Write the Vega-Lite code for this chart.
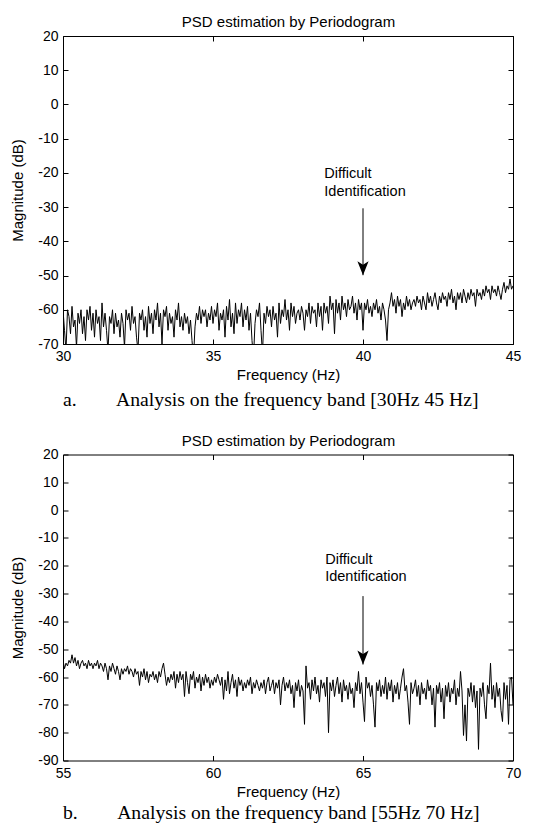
{
"$schema":"https://vega.github.io/schema/vega-lite/v6.json",
"background":"white",
"padding":{"left":10,"top":14,"right":5,"bottom":0},
"spacing":22.5,
"config":{"font":"Liberation Sans","view":{"stroke":null},
"axis":{"grid":false,"domainColor":"black","tickColor":"black","labelColor":"black","titleColor":"black","tickSize":-5,"tickWidth":1,"domainWidth":1,"labelFont":"Liberation Sans","labelFontSize":14,"titleFont":"Liberation Sans","titleFontSize":15,"titleFontWeight":"normal","labelFlush":false,"labelOverlap":false,"labelExpr":"toString(datum.value)"},
"axisX":{"labelPadding":10.5,"titlePadding":4},
"axisY":{"labelPadding":10,"titlePadding":12},
"axisTop":{"titlePadding":9,"titleBaseline":"alphabetic"}},
"datasets":{
"a":[{"f":30.00,"m":-60},{"f":30.05,"m":-66},{"f":30.10,"m":-72},{"f":30.15,"m":-60},{"f":30.20,"m":-62},{"f":30.25,"m":-67},{"f":30.30,"m":-59},{"f":30.35,"m":-65},{"f":30.40,"m":-63},{"f":30.45,"m":-71},{"f":30.50,"m":-61},{"f":30.55,"m":-64},{"f":30.60,"m":-60},{"f":30.65,"m":-67},{"f":30.70,"m":-62},{"f":30.75,"m":-69},{"f":30.80,"m":-60},{"f":30.85,"m":-63},{"f":30.90,"m":-59},{"f":30.95,"m":-66},
{"f":31.00,"m":-61},{"f":31.05,"m":-68},{"f":31.10,"m":-60},{"f":31.15,"m":-64},{"f":31.20,"m":-62},{"f":31.25,"m":-69},{"f":31.30,"m":-58},{"f":31.35,"m":-65},{"f":31.40,"m":-61},{"f":31.45,"m":-66},{"f":31.50,"m":-72},{"f":31.55,"m":-62},{"f":31.60,"m":-64},{"f":31.65,"m":-60},{"f":31.70,"m":-67},{"f":31.75,"m":-61},{"f":31.80,"m":-65},{"f":31.85,"m":-63},{"f":31.90,"m":-68},{"f":31.95,"m":-61},
{"f":32.00,"m":-64},{"f":32.05,"m":-71},{"f":32.10,"m":-60},{"f":32.15,"m":-63},{"f":32.20,"m":-61},{"f":32.25,"m":-66},{"f":32.30,"m":-59},{"f":32.35,"m":-64},{"f":32.40,"m":-62},{"f":32.45,"m":-68},{"f":32.50,"m":-72},{"f":32.55,"m":-61},{"f":32.60,"m":-63},{"f":32.65,"m":-60},{"f":32.70,"m":-66},{"f":32.75,"m":-62},{"f":32.80,"m":-68},{"f":32.85,"m":-59},{"f":32.90,"m":-64},{"f":32.95,"m":-61},
{"f":33.00,"m":-67},{"f":33.05,"m":-60},{"f":33.10,"m":-63},{"f":33.15,"m":-58},{"f":33.20,"m":-65},{"f":33.25,"m":-61},{"f":33.30,"m":-70},{"f":33.35,"m":-60},{"f":33.40,"m":-62},{"f":33.45,"m":-59},{"f":33.50,"m":-66},{"f":33.55,"m":-61},{"f":33.60,"m":-64},{"f":33.65,"m":-62},{"f":33.70,"m":-68},{"f":33.75,"m":-60},{"f":33.80,"m":-63},{"f":33.85,"m":-58},{"f":33.90,"m":-65},{"f":33.95,"m":-62},
{"f":34.00,"m":-66},{"f":34.05,"m":-61},{"f":34.10,"m":-64},{"f":34.15,"m":-62},{"f":34.20,"m":-67},{"f":34.25,"m":-63},{"f":34.30,"m":-69},{"f":34.35,"m":-74},{"f":34.40,"m":-65},{"f":34.45,"m":-61},{"f":34.50,"m":-63},{"f":34.55,"m":-59},{"f":34.60,"m":-64},{"f":34.65,"m":-60},{"f":34.70,"m":-62},{"f":34.75,"m":-60},{"f":34.80,"m":-65},{"f":34.85,"m":-61},{"f":34.90,"m":-63},{"f":34.95,"m":-59},
{"f":35.00,"m":-64},{"f":35.05,"m":-60},{"f":35.10,"m":-62},{"f":35.15,"m":-58},{"f":35.20,"m":-66},{"f":35.25,"m":-61},{"f":35.30,"m":-63},{"f":35.35,"m":-60},{"f":35.40,"m":-68},{"f":35.45,"m":-59},{"f":35.50,"m":-63},{"f":35.55,"m":-57},{"f":35.60,"m":-65},{"f":35.65,"m":-61},{"f":35.70,"m":-67},{"f":35.75,"m":-58},{"f":35.80,"m":-64},{"f":35.85,"m":-60},{"f":35.90,"m":-62},{"f":35.95,"m":-58},
{"f":36.00,"m":-65},{"f":36.05,"m":-60},{"f":36.10,"m":-63},{"f":36.15,"m":-59},{"f":36.20,"m":-66},{"f":36.25,"m":-61},{"f":36.30,"m":-69},{"f":36.35,"m":-74},{"f":36.40,"m":-64},{"f":36.45,"m":-60},{"f":36.50,"m":-62},{"f":36.55,"m":-58},{"f":36.60,"m":-66},{"f":36.65,"m":-73},{"f":36.70,"m":-61},{"f":36.75,"m":-64},{"f":36.80,"m":-59},{"f":36.85,"m":-62},{"f":36.90,"m":-60},{"f":36.95,"m":-65},
{"f":37.00,"m":-59},{"f":37.05,"m":-63},{"f":37.10,"m":-61},{"f":37.15,"m":-68},{"f":37.20,"m":-58},{"f":37.25,"m":-64},{"f":37.30,"m":-60},{"f":37.35,"m":-62},{"f":37.40,"m":-57},{"f":37.45,"m":-63},{"f":37.50,"m":-60},{"f":37.55,"m":-66},{"f":37.60,"m":-58},{"f":37.65,"m":-62},{"f":37.70,"m":-59},{"f":37.75,"m":-64},{"f":37.80,"m":-61},{"f":37.85,"m":-60},{"f":37.90,"m":-63},{"f":37.95,"m":-59},
{"f":38.00,"m":-61},{"f":38.05,"m":-66},{"f":38.10,"m":-60},{"f":38.15,"m":-62},{"f":38.20,"m":-58},{"f":38.25,"m":-64},{"f":38.30,"m":-59},{"f":38.35,"m":-61},{"f":38.40,"m":-60},{"f":38.45,"m":-65},{"f":38.50,"m":-58},{"f":38.55,"m":-62},{"f":38.60,"m":-59},{"f":38.65,"m":-66},{"f":38.70,"m":-58},{"f":38.75,"m":-61},{"f":38.80,"m":-59},{"f":38.85,"m":-64},{"f":38.90,"m":-56},{"f":38.95,"m":-60},
{"f":39.00,"m":-58},{"f":39.05,"m":-67},{"f":39.10,"m":-57},{"f":39.15,"m":-61},{"f":39.20,"m":-58},{"f":39.25,"m":-63},{"f":39.30,"m":-56},{"f":39.35,"m":-60},{"f":39.40,"m":-58},{"f":39.45,"m":-62},{"f":39.50,"m":-57},{"f":39.55,"m":-60},{"f":39.60,"m":-59},{"f":39.65,"m":-56},{"f":39.70,"m":-61},{"f":39.75,"m":-58},{"f":39.80,"m":-63},{"f":39.85,"m":-57},{"f":39.90,"m":-60},{"f":39.95,"m":-58},
{"f":40.00,"m":-66},{"f":40.05,"m":-58},{"f":40.10,"m":-60},{"f":40.15,"m":-57},{"f":40.20,"m":-61},{"f":40.25,"m":-59},{"f":40.30,"m":-62},{"f":40.35,"m":-58},{"f":40.40,"m":-60},{"f":40.45,"m":-57},{"f":40.50,"m":-61},{"f":40.55,"m":-59},{"f":40.60,"m":-63},{"f":40.65,"m":-58},{"f":40.70,"m":-60},{"f":40.75,"m":-63},{"f":40.80,"m":-69},{"f":40.85,"m":-60},{"f":40.90,"m":-58},{"f":40.95,"m":-55},
{"f":41.00,"m":-59},{"f":41.05,"m":-57},{"f":41.10,"m":-61},{"f":41.15,"m":-56},{"f":41.20,"m":-59},{"f":41.25,"m":-57},{"f":41.30,"m":-62},{"f":41.35,"m":-58},{"f":41.40,"m":-60},{"f":41.45,"m":-56},{"f":41.50,"m":-59},{"f":41.55,"m":-57},{"f":41.60,"m":-60},{"f":41.65,"m":-58},{"f":41.70,"m":-57},{"f":41.75,"m":-59},{"f":41.80,"m":-56},{"f":41.85,"m":-58},{"f":41.90,"m":-57},{"f":41.95,"m":-60},
{"f":42.00,"m":-56},{"f":42.05,"m":-58},{"f":42.10,"m":-60},{"f":42.15,"m":-55},{"f":42.20,"m":-58},{"f":42.25,"m":-56},{"f":42.30,"m":-59},{"f":42.35,"m":-57},{"f":42.40,"m":-55},{"f":42.45,"m":-58},{"f":42.50,"m":-60},{"f":42.55,"m":-56},{"f":42.60,"m":-58},{"f":42.65,"m":-55},{"f":42.70,"m":-57},{"f":42.75,"m":-56},{"f":42.80,"m":-59},{"f":42.85,"m":-55},{"f":42.90,"m":-57},{"f":42.95,"m":-54},
{"f":43.00,"m":-58},{"f":43.05,"m":-56},{"f":43.10,"m":-60},{"f":43.15,"m":-55},{"f":43.20,"m":-57},{"f":43.25,"m":-55},{"f":43.30,"m":-58},{"f":43.35,"m":-54},{"f":43.40,"m":-56},{"f":43.45,"m":-58},{"f":43.50,"m":-55},{"f":43.55,"m":-57},{"f":43.60,"m":-54},{"f":43.65,"m":-56},{"f":43.70,"m":-55},{"f":43.75,"m":-59},{"f":43.80,"m":-54},{"f":43.85,"m":-56},{"f":43.90,"m":-55},{"f":43.95,"m":-57},
{"f":44.00,"m":-54},{"f":44.05,"m":-56},{"f":44.10,"m":-53},{"f":44.15,"m":-55},{"f":44.20,"m":-54},{"f":44.25,"m":-57},{"f":44.30,"m":-53},{"f":44.35,"m":-55},{"f":44.40,"m":-54},{"f":44.45,"m":-56},{"f":44.50,"m":-53},{"f":44.55,"m":-55},{"f":44.60,"m":-57},{"f":44.65,"m":-54},{"f":44.70,"m":-52},{"f":44.75,"m":-55},{"f":44.80,"m":-53},{"f":44.85,"m":-54},{"f":44.90,"m":-51},{"f":44.95,"m":-54},{"f":45.00,"m":-53}],
"b":[{"f":55.00,"m":-54},{"f":55.05,"m":-57},{"f":55.10,"m":-55},{"f":55.15,"m":-56},{"f":55.20,"m":-54},{"f":55.25,"m":-55},{"f":55.30,"m":-52},{"f":55.35,"m":-55},{"f":55.40,"m":-53},{"f":55.45,"m":-56},{"f":55.50,"m":-54},{"f":55.55,"m":-57},{"f":55.60,"m":-55},{"f":55.65,"m":-54},{"f":55.70,"m":-56},{"f":55.75,"m":-55},{"f":55.80,"m":-57},{"f":55.85,"m":-54},{"f":55.90,"m":-56},{"f":55.95,"m":-55},
{"f":56.00,"m":-57},{"f":56.05,"m":-55},{"f":56.10,"m":-56},{"f":56.15,"m":-54},{"f":56.20,"m":-57},{"f":56.25,"m":-55},{"f":56.30,"m":-56},{"f":56.35,"m":-58},{"f":56.40,"m":-55},{"f":56.45,"m":-57},{"f":56.50,"m":-61},{"f":56.55,"m":-56},{"f":56.60,"m":-58},{"f":56.65,"m":-55},{"f":56.70,"m":-57},{"f":56.75,"m":-59},{"f":56.80,"m":-56},{"f":56.85,"m":-58},{"f":56.90,"m":-61},{"f":56.95,"m":-57},
{"f":57.00,"m":-59},{"f":57.05,"m":-57},{"f":57.10,"m":-58},{"f":57.15,"m":-56},{"f":57.20,"m":-59},{"f":57.25,"m":-57},{"f":57.30,"m":-58},{"f":57.35,"m":-60},{"f":57.40,"m":-57},{"f":57.45,"m":-59},{"f":57.50,"m":-58},{"f":57.55,"m":-63},{"f":57.60,"m":-58},{"f":57.65,"m":-60},{"f":57.70,"m":-57},{"f":57.75,"m":-61},{"f":57.80,"m":-58},{"f":57.85,"m":-62},{"f":57.90,"m":-59},{"f":57.95,"m":-60},
{"f":58.00,"m":-58},{"f":58.05,"m":-61},{"f":58.10,"m":-59},{"f":58.15,"m":-62},{"f":58.20,"m":-58},{"f":58.25,"m":-60},{"f":58.30,"m":-57},{"f":58.35,"m":-55},{"f":58.40,"m":-59},{"f":58.45,"m":-63},{"f":58.50,"m":-60},{"f":58.55,"m":-62},{"f":58.60,"m":-59},{"f":58.65,"m":-61},{"f":58.70,"m":-58},{"f":58.75,"m":-64},{"f":58.80,"m":-59},{"f":58.85,"m":-62},{"f":58.90,"m":-58},{"f":58.95,"m":-61},
{"f":59.00,"m":-59},{"f":59.05,"m":-67},{"f":59.10,"m":-58},{"f":59.15,"m":-62},{"f":59.20,"m":-66},{"f":59.25,"m":-59},{"f":59.30,"m":-61},{"f":59.35,"m":-58},{"f":59.40,"m":-64},{"f":59.45,"m":-60},{"f":59.50,"m":-62},{"f":59.55,"m":-59},{"f":59.60,"m":-65},{"f":59.65,"m":-60},{"f":59.70,"m":-63},{"f":59.75,"m":-59},{"f":59.80,"m":-62},{"f":59.85,"m":-60},{"f":59.90,"m":-64},{"f":59.95,"m":-61},
{"f":60.00,"m":-63},{"f":60.05,"m":-60},{"f":60.10,"m":-62},{"f":60.15,"m":-59},{"f":60.20,"m":-61},{"f":60.25,"m":-63},{"f":60.30,"m":-60},{"f":60.35,"m":-68},{"f":60.40,"m":-61},{"f":60.45,"m":-65},{"f":60.50,"m":-58},{"f":60.55,"m":-66},{"f":60.60,"m":-62},{"f":60.65,"m":-59},{"f":60.70,"m":-64},{"f":60.75,"m":-61},{"f":60.80,"m":-67},{"f":60.85,"m":-60},{"f":60.90,"m":-63},{"f":60.95,"m":-61},
{"f":61.00,"m":-65},{"f":61.05,"m":-62},{"f":61.10,"m":-64},{"f":61.15,"m":-61},{"f":61.20,"m":-63},{"f":61.25,"m":-60},{"f":61.30,"m":-66},{"f":61.35,"m":-62},{"f":61.40,"m":-64},{"f":61.45,"m":-61},{"f":61.50,"m":-63},{"f":61.55,"m":-65},{"f":61.60,"m":-62},{"f":61.65,"m":-64},{"f":61.70,"m":-61},{"f":61.75,"m":-66},{"f":61.80,"m":-62},{"f":61.85,"m":-60},{"f":61.90,"m":-65},{"f":61.95,"m":-63},
{"f":62.00,"m":-61},{"f":62.05,"m":-66},{"f":62.10,"m":-62},{"f":62.15,"m":-64},{"f":62.20,"m":-61},{"f":62.25,"m":-70},{"f":62.30,"m":-63},{"f":62.35,"m":-60},{"f":62.40,"m":-65},{"f":62.45,"m":-62},{"f":62.50,"m":-64},{"f":62.55,"m":-61},{"f":62.60,"m":-66},{"f":62.65,"m":-63},{"f":62.70,"m":-71},{"f":62.75,"m":-62},{"f":62.80,"m":-65},{"f":62.85,"m":-61},{"f":62.90,"m":-67},{"f":62.95,"m":-63},
{"f":63.00,"m":-65},{"f":63.05,"m":-77},{"f":63.10,"m":-56},{"f":63.15,"m":-64},{"f":63.20,"m":-62},{"f":63.25,"m":-68},{"f":63.30,"m":-61},{"f":63.35,"m":-65},{"f":63.40,"m":-60},{"f":63.45,"m":-66},{"f":63.50,"m":-63},{"f":63.55,"m":-69},{"f":63.60,"m":-61},{"f":63.65,"m":-64},{"f":63.70,"m":-62},{"f":63.75,"m":-67},{"f":63.80,"m":-60},{"f":63.85,"m":-80},{"f":63.90,"m":-62},{"f":63.95,"m":-65},
{"f":64.00,"m":-61},{"f":64.05,"m":-67},{"f":64.10,"m":-63},{"f":64.15,"m":-60},{"f":64.20,"m":-66},{"f":64.25,"m":-62},{"f":64.30,"m":-69},{"f":64.35,"m":-61},{"f":64.40,"m":-65},{"f":64.45,"m":-63},{"f":64.50,"m":-68},{"f":64.55,"m":-62},{"f":64.60,"m":-66},{"f":64.65,"m":-64},{"f":64.70,"m":-71},{"f":64.75,"m":-62},{"f":64.80,"m":-65},{"f":64.85,"m":-58},{"f":64.90,"m":-66},{"f":64.95,"m":-62},
{"f":65.00,"m":-69},{"f":65.05,"m":-76},{"f":65.10,"m":-60},{"f":65.15,"m":-64},{"f":65.20,"m":-62},{"f":65.25,"m":-67},{"f":65.30,"m":-63},{"f":65.35,"m":-70},{"f":65.40,"m":-78},{"f":65.45,"m":-62},{"f":65.50,"m":-65},{"f":65.55,"m":-61},{"f":65.60,"m":-67},{"f":65.65,"m":-63},{"f":65.70,"m":-66},{"f":65.75,"m":-60},{"f":65.80,"m":-68},{"f":65.85,"m":-62},{"f":65.90,"m":-65},{"f":65.95,"m":-61},
{"f":66.00,"m":-69},{"f":66.05,"m":-63},{"f":66.10,"m":-66},{"f":66.15,"m":-62},{"f":66.20,"m":-68},{"f":66.25,"m":-64},{"f":66.30,"m":-60},{"f":66.35,"m":-57},{"f":66.40,"m":-65},{"f":66.45,"m":-63},{"f":66.50,"m":-69},{"f":66.55,"m":-77},{"f":66.60,"m":-62},{"f":66.65,"m":-66},{"f":66.70,"m":-64},{"f":66.75,"m":-61},{"f":66.80,"m":-67},{"f":66.85,"m":-63},{"f":66.90,"m":-70},{"f":66.95,"m":-62},
{"f":67.00,"m":-66},{"f":67.05,"m":-64},{"f":67.10,"m":-68},{"f":67.15,"m":-61},{"f":67.20,"m":-65},{"f":67.25,"m":-63},{"f":67.30,"m":-70},{"f":67.35,"m":-64},{"f":67.40,"m":-78},{"f":67.45,"m":-63},{"f":67.50,"m":-66},{"f":67.55,"m":-62},{"f":67.60,"m":-69},{"f":67.65,"m":-64},{"f":67.70,"m":-75},{"f":67.75,"m":-63},{"f":67.80,"m":-67},{"f":67.85,"m":-62},{"f":67.90,"m":-69},{"f":67.95,"m":-64},
{"f":68.00,"m":-66},{"f":68.05,"m":-61},{"f":68.10,"m":-70},{"f":68.15,"m":-64},{"f":68.20,"m":-67},{"f":68.25,"m":-58},{"f":68.30,"m":-65},{"f":68.35,"m":-81},{"f":68.40,"m":-70},{"f":68.45,"m":-83},{"f":68.50,"m":-64},{"f":68.55,"m":-67},{"f":68.60,"m":-62},{"f":68.65,"m":-69},{"f":68.70,"m":-63},{"f":68.75,"m":-71},{"f":68.80,"m":-65},{"f":68.85,"m":-86},{"f":68.90,"m":-64},{"f":68.95,"m":-67},
{"f":69.00,"m":-62},{"f":69.05,"m":-70},{"f":69.10,"m":-75},{"f":69.15,"m":-63},{"f":69.20,"m":-66},{"f":69.25,"m":-55},{"f":69.30,"m":-68},{"f":69.35,"m":-63},{"f":69.40,"m":-71},{"f":69.45,"m":-62},{"f":69.50,"m":-67},{"f":69.55,"m":-64},{"f":69.60,"m":-72},{"f":69.65,"m":-76},{"f":69.70,"m":-62},{"f":69.75,"m":-68},{"f":69.80,"m":-63},{"f":69.85,"m":-77},{"f":69.90,"m":-61},{"f":69.95,"m":-60},{"f":70.00,"m":-70}],
"ta":[{"f":38.71,"m":-20.4,"t":"Difficult"},{"f":38.71,"m":-25.6,"t":"Identification"}],
"tb":[{"f":63.74,"m":-18.1,"t":"Difficult"},{"f":63.74,"m":-24.0,"t":"Identification"}],
"aa":[{"f":40,"m1":-30.35,"m2":-49.9}],
"ab":[{"f":65,"m1":-30.9,"m2":-55.5}]
},
"vconcat":[
{"width":450,"height":308,
"title":{"text":"a.\u00a0\u00a0\u00a0\u00a0\u00a0\u00a0\u00a0\u00a0Analysis on the frequency band [30Hz 45 Hz]","orient":"bottom","anchor":"start","frame":"group","baseline":"alphabetic","offset":23,"dx":0,"font":"Liberation Serif","fontSize":19.7,"fontWeight":"normal","color":"black"},
"resolve":{"axis":{"x":"independent","y":"independent"}},
"layer":[
{"data":{"name":"a"},"mark":{"type":"line","color":"black","strokeWidth":1,"clip":true},
"encoding":{"x":{"field":"f","type":"quantitative","scale":{"domain":[30,45],"nice":false,"zero":false},"axis":{"values":[30,35,40,45],"title":"Frequency (Hz)"}},
"y":{"field":"m","type":"quantitative","scale":{"domain":[-70,20],"nice":false,"zero":false},"axis":{"values":[-70,-60,-50,-40,-30,-20,-10,0,10,20],"title":"Magnitude (dB)"}}}},
{"data":{"name":"ta"},"mark":{"type":"text","align":"left","baseline":"middle","fontSize":14.5,"font":"Liberation Sans","color":"black"},
"encoding":{"x":{"field":"f","type":"quantitative","axis":{"orient":"top","values":[30,35,40,45],"labels":false,"title":"PSD estimation by Periodogram"}},
"y":{"field":"m","type":"quantitative","axis":{"orient":"right","values":[-70,-60,-50,-40,-30,-20,-10,0,10,20],"labels":false,"title":null}},
"text":{"field":"t"}}},
{"data":{"name":"aa"},"mark":{"type":"rule","color":"black","strokeWidth":1},
"encoding":{"x":{"field":"f","type":"quantitative","axis":null},"y":{"field":"m1","type":"quantitative","axis":null},"y2":{"field":"m2"}}},
{"data":{"name":"aa"},"mark":{"type":"point","shape":"M-0.4,-1L0,-0.75L0.4,-1L0,0Z","size":784,"filled":true,"opacity":1,"color":"black","strokeWidth":0},
"encoding":{"x":{"field":"f","type":"quantitative","axis":null},"y":{"field":"m2","type":"quantitative","axis":null}}}
]},
{"width":450,"height":306,
"title":{"text":"b.\u00a0\u00a0\u00a0\u00a0\u00a0\u00a0\u00a0\u00a0Analysis on the frequency band [55Hz 70 Hz]","orient":"bottom","anchor":"start","frame":"group","baseline":"alphabetic","offset":20,"dx":0,"font":"Liberation Serif","fontSize":19.7,"fontWeight":"normal","color":"black"},
"resolve":{"axis":{"x":"independent","y":"independent"}},
"layer":[
{"data":{"name":"b"},"mark":{"type":"line","color":"black","strokeWidth":1,"clip":true},
"encoding":{"x":{"field":"f","type":"quantitative","scale":{"domain":[55,70],"nice":false,"zero":false},"axis":{"values":[55,60,65,70],"title":"Frequency (Hz)"}},
"y":{"field":"m","type":"quantitative","scale":{"domain":[-90,20],"nice":false,"zero":false},"axis":{"values":[-90,-80,-70,-60,-50,-40,-30,-20,-10,0,10,20],"title":"Magnitude (dB)"}}}},
{"data":{"name":"tb"},"mark":{"type":"text","align":"left","baseline":"middle","fontSize":14.5,"font":"Liberation Sans","color":"black"},
"encoding":{"x":{"field":"f","type":"quantitative","axis":{"orient":"top","values":[55,60,65,70],"labels":false,"title":"PSD estimation by Periodogram"}},
"y":{"field":"m","type":"quantitative","axis":{"orient":"right","values":[-90,-80,-70,-60,-50,-40,-30,-20,-10,0,10,20],"labels":false,"title":null}},
"text":{"field":"t"}}},
{"data":{"name":"ab"},"mark":{"type":"rule","color":"black","strokeWidth":1},
"encoding":{"x":{"field":"f","type":"quantitative","axis":null},"y":{"field":"m1","type":"quantitative","axis":null},"y2":{"field":"m2"}}},
{"data":{"name":"ab"},"mark":{"type":"point","shape":"M-0.4,-1L0,-0.75L0.4,-1L0,0Z","size":784,"filled":true,"opacity":1,"color":"black","strokeWidth":0},
"encoding":{"x":{"field":"f","type":"quantitative","axis":null},"y":{"field":"m2","type":"quantitative","axis":null}}}
]}
]}
